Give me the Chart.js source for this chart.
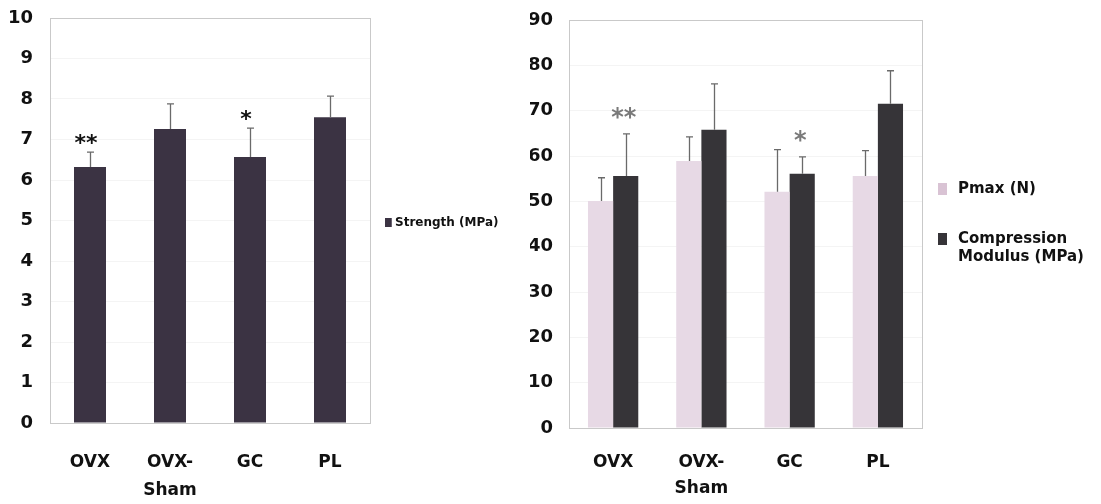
<!DOCTYPE html>
<html>
<head>
<meta charset="utf-8">
<script src="https://cdn.jsdelivr.net/npm/chart.js@4.4.1/dist/chart.umd.min.js"></script>
<style>
  html, body { margin: 0; padding: 0; background: #ffffff; }
  body { width: 1101px; height: 504px; position: relative; overflow: hidden; }
  .box { position: absolute; top: 0; height: 504px; }
  #leftBox { left: 0; width: 530px; }
  #rightBox { left: 530px; width: 571px; }
  canvas { display: block; }
</style>
</head>
<body>
<div class="box" id="leftBox"><canvas id="strengthChart"></canvas></div>
<div class="box" id="rightBox"><canvas id="compressionChart"></canvas></div>
<script>
// Groups
const categories = ['OVX', ['OVX-', 'Sham'], 'GC', 'PL'];

// Bending strength (MPa), mean and SD
const strength = [6.32, 7.26, 6.57, 7.55];
const strengthErr = [0.37, 0.62, 0.71, 0.52];
const strengthMarks = ['**', '', '*', ''];

// Compression test: maximum load (N) and compression modulus (MPa)
const pmax = [50.1, 58.9, 52.1, 55.6];
const pmaxErr = [5.1, 5.3, 9.3, 5.6];
const modulus = [55.6, 65.8, 56.1, 71.5];
const modulusErr = [9.3, 10.1, 3.7, 7.3];
const modulusMarks = ['**', '', '*', ''];

// Axis ticks
const strengthTicks = [0, 1, 2, 3, 4, 5, 6, 7, 8, 9, 10];
const compressionTicks = [0, 10, 20, 30, 40, 50, 60, 70, 80, 90];

const FONT = '"DejaVu Sans", Verdana, sans-serif';

// Frame around the plotting area
const framePlugin = {
  id: 'frame',
  beforeDatasetsDraw(chart) {
    const a = chart.chartArea, ctx = chart.ctx;
    ctx.save();
    ctx.strokeStyle = '#c9c9c9';
    ctx.lineWidth = 1;
    ctx.strokeRect(Math.round(a.left) + 0.5, Math.round(a.top) + 0.5,
                   Math.round(a.right - a.left), Math.round(a.bottom - a.top));
    ctx.restore();
  }
};

// One-sided (upper) error bars plus significance marks
const errorBarPlugin = {
  id: 'errorBars',
  afterDatasetsDraw(chart) {
    const ctx = chart.ctx;
    const yScale = chart.scales.y;
    chart.data.datasets.forEach((ds, di) => {
      if (!ds.errors) return;
      const meta = chart.getDatasetMeta(di);
      meta.data.forEach((bar, i) => {
        const top = yScale.getPixelForValue(ds.data[i] + ds.errors[i]);
        const x = Math.round(bar.x) + 0.5;
        ctx.save();
        ctx.strokeStyle = '#6a6a6a';
        ctx.lineWidth = 1.3;
        ctx.beginPath();
        ctx.moveTo(x, bar.y);
        ctx.lineTo(x, top);
        ctx.moveTo(x - 3.5, top);
        ctx.lineTo(x + 3.5, top);
        ctx.stroke();
        if (ds.marks && ds.marks[i]) {
          ctx.fillStyle = ds.markColor || '#111';
          ctx.font = 'bold ' + (ds.markSize || 20) + 'px ' + FONT;
          ctx.textAlign = 'center';
          ctx.textBaseline = 'alphabetic';
          ctx.fillText(ds.marks[i], bar.x + (ds.markShift || 0), top - ds.markGap);
        }
        ctx.restore();
      });
    });
  }
};

// Legend drawn to the right of the plot
const sideLegendPlugin = {
  id: 'sideLegend',
  afterDraw(chart, args, opts) {
    const ctx = chart.ctx, a = chart.chartArea;
    ctx.save();
    ctx.font = 'bold ' + opts.fontSize + 'px ' + FONT;
    ctx.textBaseline = 'middle';
    ctx.textAlign = 'left';
    const cy = (a.top + a.bottom) / 2 + opts.offsetY;
    chart.data.datasets.forEach((ds, di) => {
      const lines = Array.isArray(ds.label) ? ds.label : [ds.label];
      const y0 = cy + opts.itemY[di];
      ctx.fillStyle = ds.legendColor || ds.backgroundColor;
      ctx.fillRect(a.right + opts.boxX, y0 - opts.box / 2, opts.box * 0.75, opts.box);
      ctx.fillStyle = '#111';
      lines.forEach((t, li) => {
        ctx.fillText(t, a.right + opts.textX, y0 + li * opts.lineH);
      });
    });
    ctx.restore();
  }
};

function yAxis(max, ticks, width, fontSize, pad) {
  return {
    min: 0, max: max,
    afterFit(s) { s.width = width; s.paddingTop = 0; s.paddingBottom = 0; },
    afterBuildTicks(s) { s.ticks = ticks.map(v => ({ value: v })); },
    grid: { color: '#f4f4f4', drawTicks: false, lineWidth: 1 },
    border: { display: false },
    ticks: { color: '#111', padding: pad, font: { family: FONT, size: fontSize, weight: 'bold' } }
  };
}

function xAxis(height, fontSize, pad, lh) {
  return {
    afterFit(s) { s.height = height; s.paddingLeft = 0; s.paddingRight = 0; },
    grid: { display: false, drawTicks: false },
    border: { display: false },
    ticks: { color: '#111', padding: pad, font: { family: FONT, size: fontSize, weight: 'bold', lineHeight: lh } }
  };
}

new Chart(document.getElementById('strengthChart'), {
  type: 'bar',
  data: {
    labels: categories,
    datasets: [{
      label: 'Strength (MPa)',
      data: strength,
      errors: strengthErr,
      marks: strengthMarks,
      markColor: '#111',
      markSize: 22,
      markGap: 2,
      markShift: -4,
      backgroundColor: '#3b3343',
      categoryPercentage: 0.4,
      barPercentage: 1.0
    }]
  },
  options: {
    responsive: true,
    maintainAspectRatio: false,
    animation: false,
    layout: { padding: { top: 18, right: 160, left: 0, bottom: 0 } },
    plugins: {
      legend: { display: false },
      tooltip: { enabled: false },
      sideLegend: { fontSize: 12, box: 9, boxX: 15, textX: 25, lineH: 14, offsetY: 2, itemY: [0] }
    },
    scales: {
      x: xAxis(81, 17, 26, 1.62),
      y: yAxis(10, strengthTicks, 50, 18, 17)
    }
  },
  plugins: [framePlugin, errorBarPlugin, sideLegendPlugin]
});

new Chart(document.getElementById('compressionChart'), {
  type: 'bar',
  data: {
    labels: categories,
    datasets: [{
      label: 'Pmax (N)',
      data: pmax,
      errors: pmaxErr,
      backgroundColor: '#e7d9e5',
      legendColor: '#d9c3d4',
      categoryPercentage: 0.57,
      barPercentage: 1.0
    }, {
      label: ['Compression', 'Modulus (MPa)'],
      data: modulus,
      errors: modulusErr,
      marks: modulusMarks,
      markColor: '#7a7a7a',
      markSize: 24,
      markGap: 9,
      markShift: -2,
      backgroundColor: '#363438',
      categoryPercentage: 0.57,
      barPercentage: 1.0
    }]
  },
  options: {
    responsive: true,
    maintainAspectRatio: false,
    animation: false,
    layout: { padding: { top: 20, right: 179, left: 0, bottom: 0 } },
    plugins: {
      legend: { display: false },
      tooltip: { enabled: false },
      sideLegend: { fontSize: 15, box: 12, boxX: 16, textX: 36, lineH: 18, offsetY: 1, itemY: [-36, 14] }
    },
    scales: {
      x: xAxis(76, 17, 22, 1.5),
      y: yAxis(90, compressionTicks, 39, 18, 16)
    }
  },
  plugins: [framePlugin, errorBarPlugin, sideLegendPlugin]
});
</script>
</body>
</html>
